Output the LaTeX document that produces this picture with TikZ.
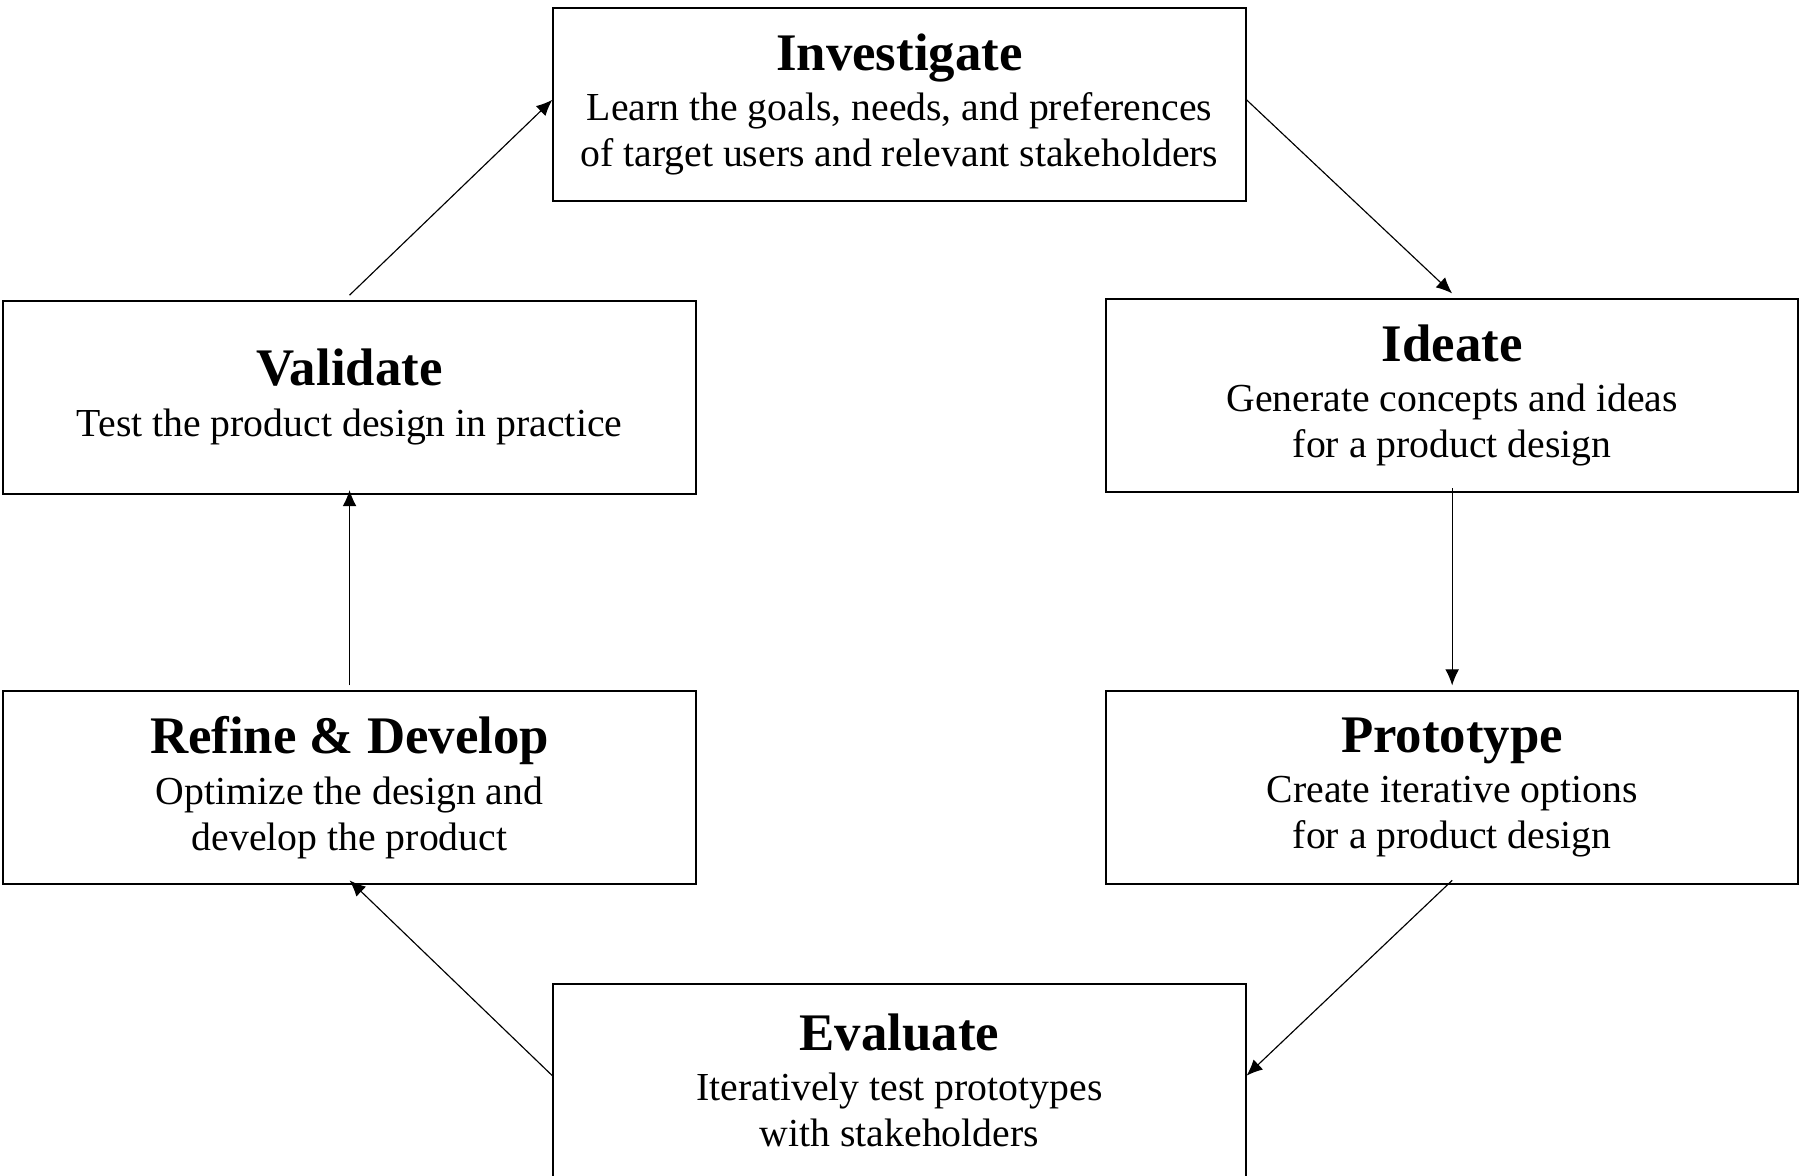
\documentclass[tikz,border=0pt]{standalone}
\usepackage{fontspec}
\setmainfont{Liberation Serif}
\usetikzlibrary{arrows.meta}
\begin{document}
\begin{tikzpicture}[x=1pt,y=1pt,
  stage/.style={draw=black,line width=0.9pt,minimum width=301.5pt,minimum height=84pt,align=center,inner sep=2pt,font=\fontsize{17.3}{20}\selectfont},
  conn/.style={line width=0.5pt,-{Latex[length=7pt,width=6pt]}}]
\useasboundingbox (0,0) rectangle (784,512);
\newcommand{\ttl}[1]{{\fontsize{23}{24}\selectfont\bfseries #1}\\[2pt]}
\node[stage] (inv) at (391.75,466.5) {\ttl{Investigate}Learn the goals, needs, and preferences\\of target users and relevant stakeholders};
\node[stage] (val) at (152.25,339) {\ttl{Validate}Test the product design in practice};
\node[stage] (ide) at (632.5,339.75) {\ttl{Ideate}Generate concepts and ideas\\for a product design};
\node[stage] (ref) at (152.25,169) {\ttl{Refine \& Develop}Optimize the design and\\develop the product};
\node[stage] (pro) at (632.5,169) {\ttl{Prototype}Create iterative options\\for a product design};
\node[stage] (eva) at (391.75,41.5) {\ttl{Evaluate}Iteratively test prototypes\\with stakeholders};
\begin{scope}[every path/.append style={}]
\end{scope}
\path (inv.north west)+(0,2) coordinate (tmp);
\draw[conn] (val.north) ++(0,2) -- ([yshift=2pt]inv.west);
\draw[conn] ([yshift=2pt]inv.east) -- ([yshift=2pt]ide.north);
\draw[conn] ([yshift=2pt]ide.south) -- ([yshift=2pt]pro.north);
\draw[conn] ([yshift=2pt]pro.south) -- ([yshift=2pt]eva.east);
\draw[conn] ([yshift=2pt]eva.west) -- ([yshift=2pt]ref.south);
\draw[conn] ([yshift=2pt]ref.north) -- ([yshift=2pt]val.south);
\end{tikzpicture}
\end{document}
